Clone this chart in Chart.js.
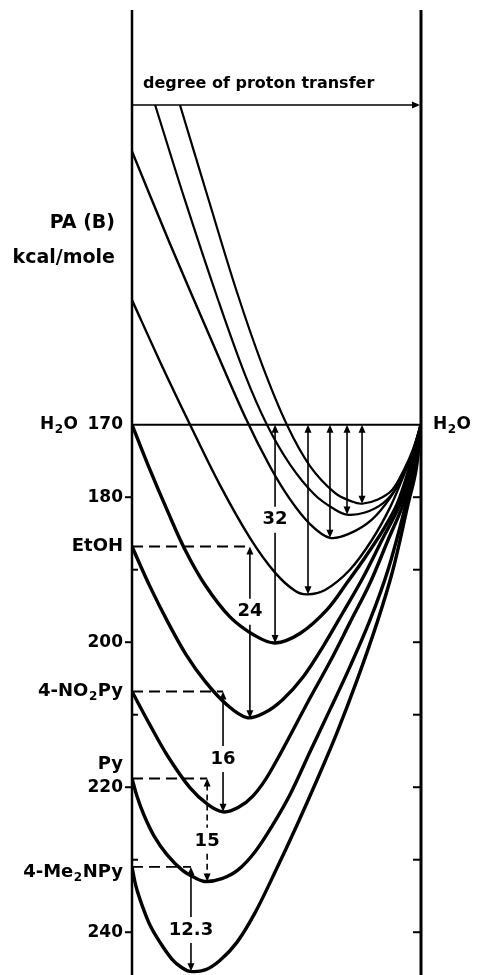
<!DOCTYPE html>
<html>
<head>
<meta charset="utf-8">
<script src="https://cdn.jsdelivr.net/npm/chart.js@4.4.0/dist/chart.umd.min.js"></script>
<style>
  html, body { margin: 0; padding: 0; background: #fff; }
  #wrap { width: 478px; height: 975px; position: relative; }
</style>
</head>
<body>
<div id="wrap"><canvas id="chart"></canvas></div>
<script>
// degree of proton transfer (0..1) and PA (kcal/mole)
const weak1X = [0.166, 0.263, 0.363, 0.450, 0.536, 0.616, 0.702, 0.761, 0.796, 0.851, 0.900, 0.941, 0.972, 1];
const weak1Y = [125.9, 138.7, 151.7, 161.7, 170.0, 175.7, 179.4, 180.6, 180.9, 180.3, 179.0, 176.2, 173.4, 170.0];
const weak2X = [0.080, 0.183, 0.298, 0.391, 0.467, 0.547, 0.633, 0.702, 0.744, 0.806, 0.869, 0.917, 0.952, 0.979, 1];
const weak2Y = [125.9, 139.0, 152.8, 163.1, 170.0, 175.5, 179.7, 181.7, 182.4, 182.1, 180.8, 178.6, 175.8, 173.0, 170.0];
const weak3X = [0, 0.131, 0.270, 0.391, 0.478, 0.547, 0.616, 0.685, 0.754, 0.830, 0.893, 0.938, 0.972, 1];
const weak3Y = [132.3, 145.0, 157.9, 168.9, 175.8, 180.3, 183.7, 185.6, 185.0, 183.1, 180.1, 176.9, 173.7, 170.0];
const weak4X = [0, 0.097, 0.201, 0.304, 0.408, 0.495, 0.564, 0.606, 0.668, 0.754, 0.830, 0.893, 0.941, 0.976, 1];
const weak4Y = [152.8, 161.3, 170.0, 178.3, 185.6, 190.4, 192.9, 193.4, 192.8, 190.0, 185.9, 181.4, 176.9, 173.2, 170.0];
const h2oX = [0, 0.062, 0.125, 0.183, 0.253, 0.339, 0.426, 0.495, 0.581, 0.675, 0.744, 0.810, 0.869, 0.917, 0.958, 1];
const h2oY = [170.0, 176.2, 182.1, 187.2, 192.1, 196.5, 199.1, 200.1, 198.8, 195.5, 191.8, 188.1, 184.5, 181.0, 176.2, 170.0];
const etohX = [0, 0.062, 0.125, 0.187, 0.253, 0.325, 0.398, 0.460, 0.522, 0.592, 0.661, 0.730, 0.799, 0.865, 0.927, 0.965, 1];
const etohY = [186.8, 192.3, 197.3, 201.7, 205.4, 208.5, 210.4, 209.7, 207.9, 204.8, 200.6, 195.9, 191.1, 185.9, 181.0, 176.2, 170.0];
const no2pyX = [0, 0.062, 0.125, 0.201, 0.263, 0.315, 0.367, 0.419, 0.478, 0.616, 0.685, 0.754, 0.824, 0.886, 0.938, 0.972, 1];
const no2pyY = [206.8, 211.4, 215.8, 220.1, 222.4, 223.4, 222.8, 221.2, 217.9, 207.7, 202.7, 197.3, 191.8, 185.9, 181.0, 176.2, 170.0];
const pyX = [0, 0.017, 0.042, 0.076, 0.121, 0.173, 0.218, 0.253, 0.311, 0.367, 0.426, 0.484, 0.547, 0.616, 0.685, 0.754, 0.824, 0.886, 0.948, 0.979, 1];
const pyY = [218.8, 221.2, 223.9, 226.7, 229.3, 231.4, 232.5, 233.0, 232.6, 231.4, 228.9, 225.4, 221.0, 215.1, 209.3, 203.4, 196.9, 190.0, 181.0, 176.2, 170.0];
const me2npyX = [0, 0.014, 0.035, 0.062, 0.097, 0.138, 0.173, 0.201, 0.253, 0.304, 0.363, 0.426, 0.495, 0.571, 0.640, 0.709, 0.779, 0.848, 0.903, 0.955, 0.983, 1];
const me2npyY = [231.0, 233.7, 236.3, 239.0, 241.4, 243.7, 244.9, 245.4, 245.2, 243.9, 241.4, 237.3, 231.7, 225.2, 219.0, 212.5, 205.2, 197.3, 190.0, 181.0, 176.2, 170.0];

// left-axis bases and their PA levels
const baseNames = ['H₂O', 'EtOH', '4-NO₂Py', 'Py', '4-Me₂NPy'];
const basePA = [170, 186.8, 206.8, 218.8, 231.0];
const baseLabelY = [170, 186.8, 206.8, 216.9, 231.7];

// y ticks
const tickValues = [180, 190, 200, 210, 220, 230, 240];
const tickLabelValues = [170, 180, 200, 220, 240];

// vertical gap arrows (x, from, to, label, label level)
const gapX = [0.495, 0.609, 0.685, 0.744, 0.796, 0.408, 0.315, 0.260, 0.204];
const gapFrom = [170, 170, 170, 170, 170, 186.8, 206.8, 218.8, 231.0];
const gapTo = [200.1, 193.4, 185.6, 182.4, 180.9, 210.5, 223.4, 233.0, 245.4];
const gapLabels = ['32', '', '', '', '', '24', '16', '15', '12.3'];
const gapLabelY = [183.1, 0, 0, 0, 0, 195.8, 216.1, 227.4, 239.7];
const gapDashed = [false, false, false, false, false, false, false, true, false];

const transferArrowLevel = 125.9;
const yTop = 112.8, yBottom = 245.9;

const FONT = '"DejaVu Sans", sans-serif';

function pts(xs, ys) { return xs.map((v, i) => ({ x: v, y: ys[i] })); }

function curve(xs, ys, w) {
  return {
    data: pts(xs, ys), borderColor: '#000', borderWidth: w, pointRadius: 0,
    tension: 0.35, fill: false
  };
}

const datasets = [
  curve(weak1X, weak1Y, 2.2),
  curve(weak2X, weak2Y, 2.2),
  curve(weak3X, weak3Y, 2.4),
  curve(weak4X, weak4Y, 2.4),
  curve(h2oX, h2oY, 3.4),
  curve(etohX, etohY, 3.4),
  curve(no2pyX, no2pyY, 3.4),
  curve(pyX, pyY, 3.4),
  curve(me2npyX, me2npyY, 3.4),
  { data: [{ x: 0, y: 170 }, { x: 1, y: 170 }], borderColor: '#000', borderWidth: 2, pointRadius: 0 }
];
for (let i = 1; i < basePA.length; i++) {
  datasets.push({
    data: [{ x: 0, y: basePA[i] }, { x: gapX[4 + i], y: basePA[i] }],
    borderColor: '#000', borderWidth: 1.8, borderDash: [11, 6], pointRadius: 0
  });
}

function seg(ctx, ax, ay, bx, by) {
  ctx.beginPath(); ctx.moveTo(ax, ay); ctx.lineTo(bx, by); ctx.stroke();
}
function headV(ctx, x, y, dir) {
  ctx.beginPath();
  ctx.moveTo(x, y); ctx.lineTo(x - 3.5, y - dir * 8); ctx.lineTo(x + 3.5, y - dir * 8);
  ctx.closePath(); ctx.fill();
}
function richText(ctx, s, x, y, size, align) {
  const parts = s.split(/(₂)/).filter(p => p !== '');
  const big = 'bold ' + size + 'px ' + FONT;
  const small = 'bold ' + Math.round(size * 0.68) + 'px ' + FONT;
  let w = 0;
  parts.forEach(p => { ctx.font = p === '₂' ? small : big; w += ctx.measureText(p === '₂' ? '2' : p).width + (p === '₂' ? 1 : 0); });
  let cx = align === 'right' ? x - w : (align === 'center' ? x - w / 2 : x);
  ctx.textAlign = 'left';
  ctx.textBaseline = 'middle';
  parts.forEach(p => {
    const sub = p === '₂';
    ctx.font = sub ? small : big;
    const t = sub ? '2' : p;
    ctx.fillText(t, cx + (sub ? 0.5 : 0), y + (sub ? size * 0.32 : 0));
    cx += ctx.measureText(t).width + (sub ? 1 : 0);
  });
}

const drawings = {
  id: 'drawings',
  beforeDatasetsDraw(chart) {
    const { ctx, chartArea: a, scales: { x, y } } = chart;
    const x0 = x.getPixelForValue(0), x1 = x.getPixelForValue(1);
    ctx.save();
    ctx.strokeStyle = '#000';
    ctx.fillStyle = '#000';
    ctx.lineWidth = 2.5;
    seg(ctx, x0, a.top, x0, a.bottom);
    ctx.lineWidth = 3;
    seg(ctx, x1, a.top, x1, a.bottom);
    ctx.lineWidth = 2;
    tickValues.forEach(v => {
      const py = y.getPixelForValue(v);
      if (tickLabelValues.includes(v)) seg(ctx, x0 - 7, py, x0, py);
      else seg(ctx, x0, py, x0 + 6, py);
      seg(ctx, x1 - 8, py, x1, py);
    });
    const ty = y.getPixelForValue(transferArrowLevel);
    ctx.lineWidth = 1.6;
    seg(ctx, x0, ty, x1 - 4, ty);
    ctx.beginPath();
    ctx.moveTo(x1 - 1, ty); ctx.lineTo(x1 - 9, ty - 3.5); ctx.lineTo(x1 - 9, ty + 3.5);
    ctx.closePath(); ctx.fill();
    ctx.restore();
  },
  afterDatasetsDraw(chart) {
    const { ctx, scales: { x, y } } = chart;
    const x0 = x.getPixelForValue(0), x1 = x.getPixelForValue(1);
    ctx.save();
    ctx.strokeStyle = '#000';
    ctx.fillStyle = '#000';
    // gap arrows
    gapX.forEach((gx, i) => {
      const px = x.getPixelForValue(gx);
      const yA = y.getPixelForValue(gapFrom[i]);
      const yB = y.getPixelForValue(gapTo[i]);
      ctx.lineWidth = 1.6;
      ctx.setLineDash(gapDashed[i] ? [6, 4] : []);
      if (gapLabels[i]) {
        const yl = y.getPixelForValue(gapLabelY[i]);
        seg(ctx, px, yA + 6, px, yl - 13);
        seg(ctx, px, yl + 13, px, yB - 6);
      } else {
        seg(ctx, px, yA + 6, px, yB - 6);
      }
      ctx.setLineDash([]);
      headV(ctx, px, yA, -1);
      headV(ctx, px, yB, 1);
      if (gapLabels[i]) {
        richText(ctx, gapLabels[i], px, y.getPixelForValue(gapLabelY[i]), 18, 'center');
      }
    });
    // y tick labels
    tickLabelValues.forEach(v => {
      richText(ctx, String(v), x0 - 9, y.getPixelForValue(v), 17, 'right');
    });
    // base labels
    baseNames.forEach((n, i) => {
      const py = y.getPixelForValue(baseLabelY[i]);
      if (i === 0) richText(ctx, n, x0 - 54, py, 17, 'right');
      else richText(ctx, n, x0 - 9, py, 18, 'right');
    });
    richText(ctx, baseNames[0], x1 + 12, y.getPixelForValue(170), 17, 'left');
    // axis titles
    richText(ctx, 'PA (B)', x0 - 17, y.getPixelForValue(142.2), 19, 'right');
    richText(ctx, 'kcal/mole', x0 - 17, y.getPixelForValue(147.0), 19, 'right');
    richText(ctx, 'degree of proton transfer', x0 + 11, y.getPixelForValue(123.0), 16, 'left');
    ctx.restore();
  }
};

new Chart(document.getElementById('chart'), {
  type: 'line',
  data: { datasets },
  options: {
    responsive: true,
    maintainAspectRatio: false,
    animation: false,
    layout: { padding: { left: 132, right: 57, top: 10, bottom: 0 } },
    plugins: { legend: { display: false }, tooltip: { enabled: false } },
    scales: {
      x: { type: 'linear', min: 0, max: 1, display: false },
      y: { type: 'linear', min: yTop, max: yBottom, reverse: true, display: false }
    }
  },
  plugins: [drawings]
});
</script>
</body>
</html>
